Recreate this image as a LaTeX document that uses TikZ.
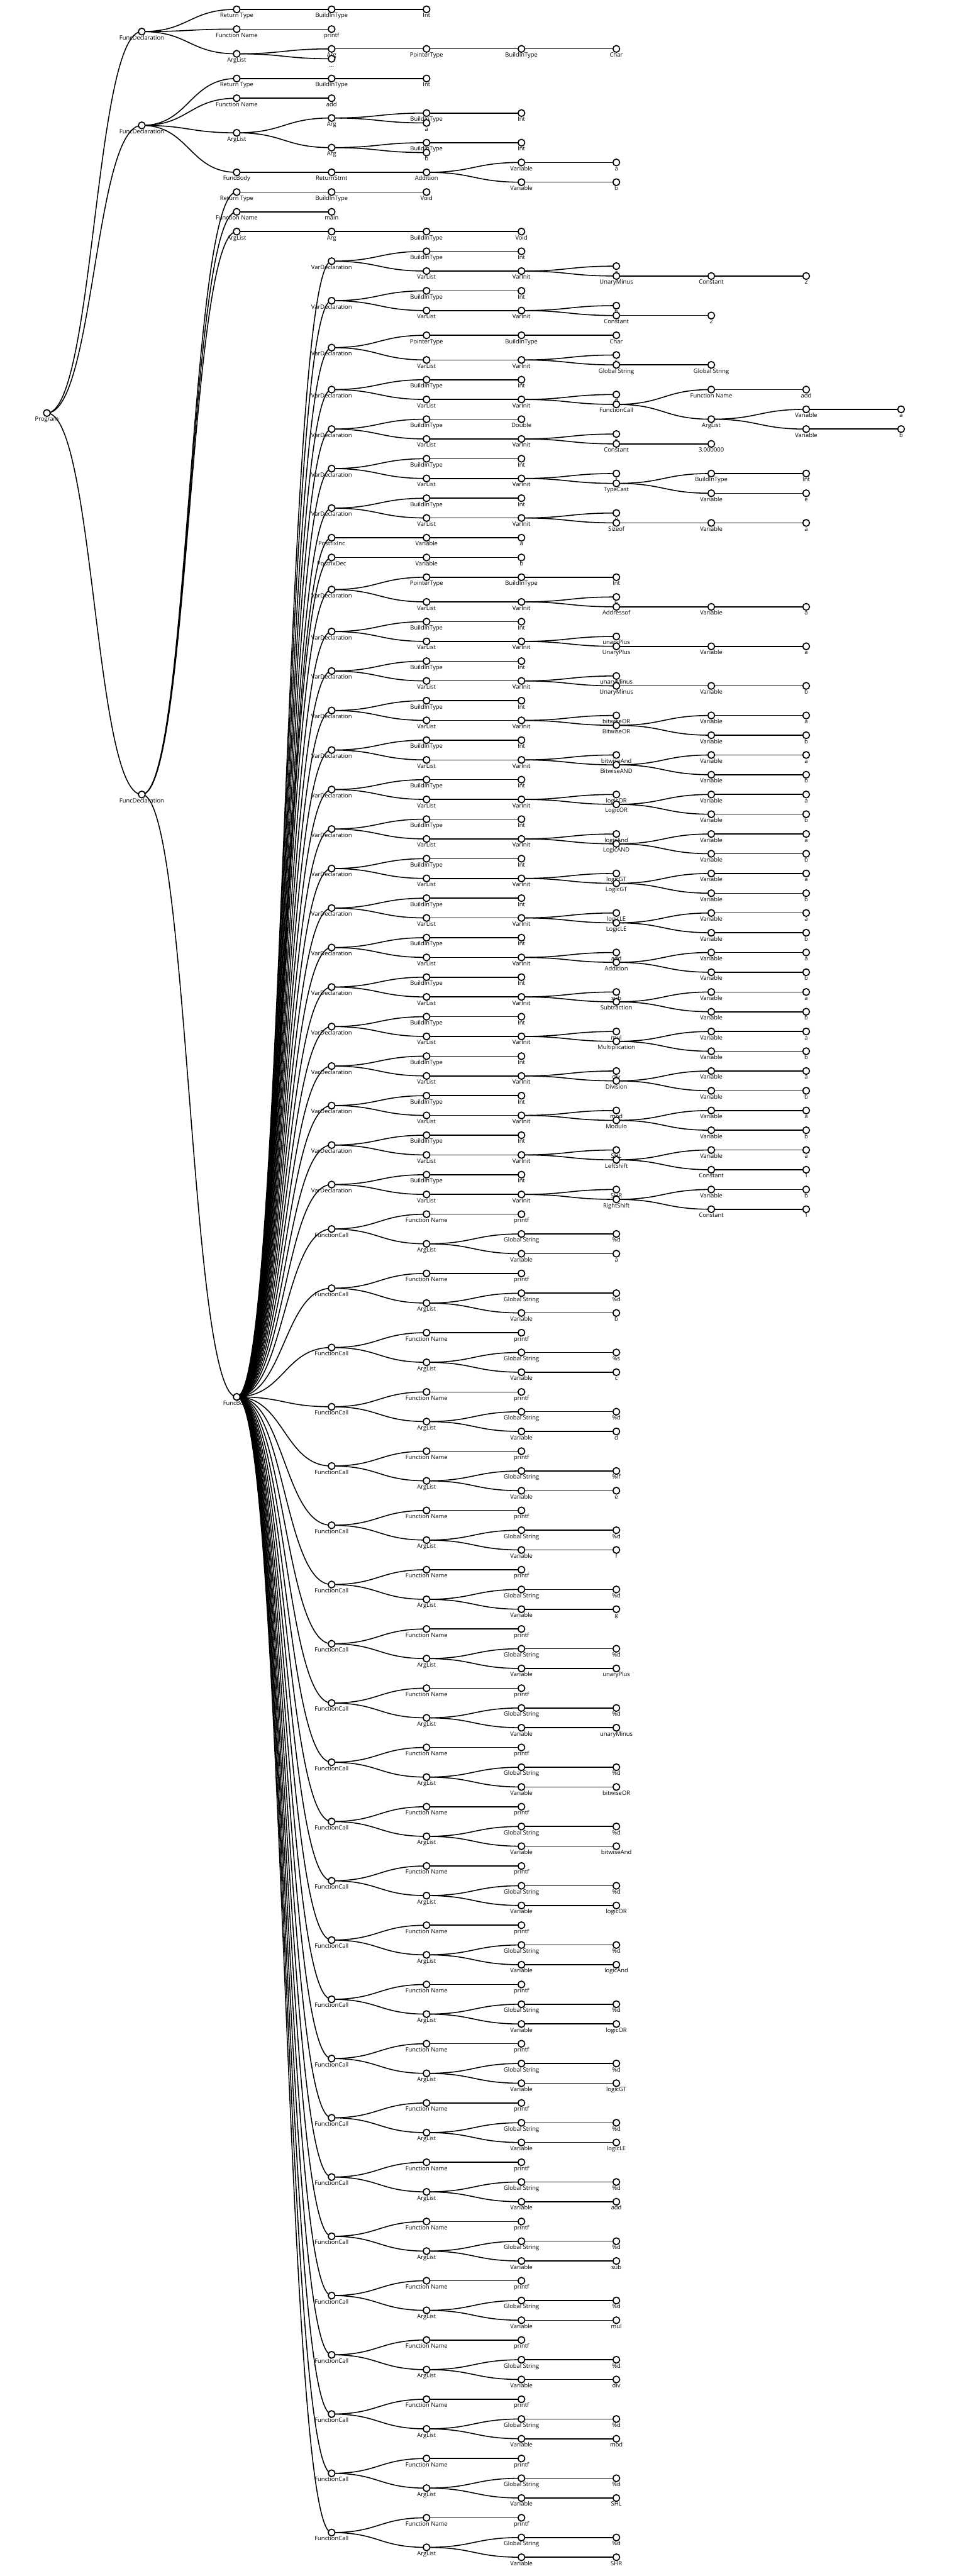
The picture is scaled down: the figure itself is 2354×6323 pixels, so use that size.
\documentclass[tikz,border=0pt]{standalone}
\usepackage{fontspec}
\setmainfont{Open Sans}
\usetikzlibrary{calc}
\pgfdeclarelayer{bg}
\pgfsetlayers{bg,main}
\tikzset{
  nd/.style={circle, draw=black, line width=1.3pt, fill=white, minimum size=8.3pt, inner sep=0pt, outer sep=0pt},
  lbl/.style={anchor=base, inner sep=0pt, text=black, font=\fontsize{7.25}{8}\selectfont},
  edge/.style={draw=black, line width=1.2pt},
}
\makeatletter
\newcommand\edgelist{}
% node: name, depth, row(unit), text
\newcommand\N[4]{%
  \node[nd] (#1) at ({115+233*(#2)},{23+24.24*(#3)}) {};
  \node[lbl] (lab-#1) at ({115+233*(#2)},{43+24.24*(#3)}) {#4};}
% edge parent -> child (collected, drawn later on the bottom layer)
\newcommand\drawedge[2]{\draw[edge] let \p1=(#1.center), \p2=(#2.center) in (\p1) .. controls ({0.5*\x1+0.5*\x2},\y1) and ({0.5*\x1+0.5*\x2},\y2) .. (\p2);}
\newcommand\E[2]{\g@addto@macro\edgelist{\drawedge{#1}{#2}}}
\makeatother
% child: parent, name, depth, row, text
\newcommand\C[5]{\N{#2}{#3}{#4}{#5}\E{#1}{#2}}
% simple variable declaration head
\newcommand\VDs[4]{%
 \C{hub}{#1}{3}{#2}{VarDeclaration}
 \C{#1}{#1-t}{4}{#2-1}{BuildInType}
 \C{#1-t}{#1-tt}{5}{#2-1}{#3}
 \C{#1}{#1-l}{4}{#2+1}{VarList}
 \C{#1-l}{#1-i}{5}{#2+1}{VarInit}
 \C{#1-i}{#1-n}{6}{#2+0.5}{#4}}
% pointer variable declaration head
\newcommand\VDp[4]{%
 \C{hub}{#1}{3}{#2}{VarDeclaration}
 \C{#1}{#1-p}{4}{#2-1.25}{PointerType}
 \C{#1-p}{#1-t}{5}{#2-1.25}{BuildInType}
 \C{#1-t}{#1-tt}{6}{#2-1.25}{#3}
 \C{#1}{#1-l}{4}{#2+1.25}{VarList}
 \C{#1-l}{#1-i}{5}{#2+1.25}{VarInit}
 \C{#1-i}{#1-n}{6}{#2+0.75}{#4}}
% binary declaration
\newcommand\BIN[8]{\VDs{#1}{#2}{Int}{#3}
 \C{#1-i}{#1-o}{6}{#2+1.5}{#4}
 \C{#1-o}{#1-a}{7}{#2+0.5}{#5}
 \C{#1-a}{#1-av}{8}{#2+0.5}{#6}
 \C{#1-o}{#1-b}{7}{#2+2.5}{#7}
 \C{#1-b}{#1-bv}{8}{#2+2.5}{#8}}
% printf call
\newcommand\FC[4]{%
 \C{hub}{#1}{3}{#2}{FunctionCall}
 \C{#1}{#1-f}{4}{#2-1.5}{Function Name}
 \C{#1-f}{#1-fp}{5}{#2-1.5}{printf}
 \C{#1}{#1-l}{4}{#2+1.5}{ArgList}
 \C{#1-l}{#1-g}{5}{#2+0.5}{Global String}
 \C{#1-g}{#1-gv}{6}{#2+0.5}{#3}
 \C{#1-l}{#1-v}{5}{#2+2.5}{Variable}
 \C{#1-v}{#1-vv}{6}{#2+2.5}{#4}}
\begin{document}
\begin{tikzpicture}[x=0.5pt,y=-0.5pt]
\useasboundingbox (0,0) rectangle (2354,6323);
\begin{pgfonlayer}{bg}
\fill[white] (0,0) rectangle (2354,6323);
\end{pgfonlayer}
\N{prog}{0}{40.875}{Program}
% first declaration
\C{prog}{fa}{1}{2.25}{FuncDeclaration}
\C{fa}{fart}{2}{0}{Return Type}
\C{fart}{fabt}{3}{0}{BuildInType}
\C{fabt}{faint}{4}{0}{Int}
\C{fa}{fafn}{2}{2}{Function Name}
\C{fafn}{faprintf}{3}{2}{printf}
\C{fa}{faal}{2}{4.5}{ArgList}
\C{faal}{faarg}{3}{4}{Arg}
\C{faarg}{fapt}{4}{4}{PointerType}
\C{fapt}{fabt2}{5}{4}{BuildInType}
\C{fabt2}{fachar}{6}{4}{Char}
\C{faal}{fadots}{3}{5}{...}
% second declaration
\C{prog}{fb}{1}{11.75}{FuncDeclaration}
\C{fb}{fbrt}{2}{7}{Return Type}
\C{fbrt}{fbbt}{3}{7}{BuildInType}
\C{fbbt}{fbint}{4}{7}{Int}
\C{fb}{fbfn}{2}{9}{Function Name}
\C{fbfn}{fbadd}{3}{9}{add}
\C{fb}{fbal}{2}{12.5}{ArgList}
\C{fbal}{fbarga}{3}{11}{Arg}
\C{fbarga}{fbargat}{4}{10.5}{BuildInType}
\C{fbargat}{fbargai}{5}{10.5}{Int}
\C{fbarga}{fbargan}{4}{11.5}{a}
\C{fbal}{fbargb}{3}{14}{Arg}
\C{fbargb}{fbargbt}{4}{13.5}{BuildInType}
\C{fbargbt}{fbargbi}{5}{13.5}{Int}
\C{fbargb}{fbargbn}{4}{14.5}{b}
\C{fb}{fbbody}{2}{16.5}{FuncBody}
\C{fbbody}{fbret}{3}{16.5}{ReturnStmt}
\C{fbret}{fbaddn}{4}{16.5}{Addition}
\C{fbaddn}{fbva}{5}{15.5}{Variable}
\C{fbva}{fbvan}{6}{15.5}{a}
\C{fbaddn}{fbvb}{5}{17.5}{Variable}
\C{fbvb}{fbvbn}{6}{17.5}{b}
% third declaration
\C{prog}{fc}{1}{79.5}{FuncDeclaration}
\C{fc}{fcrt}{2}{18.5}{Return Type}
\C{fcrt}{fcbt}{3}{18.5}{BuildInType}
\C{fcbt}{fcvoid}{4}{18.5}{Void}
\C{fc}{fcfn}{2}{20.5}{Function Name}
\C{fcfn}{fcmain}{3}{20.5}{main}
\C{fc}{fcal}{2}{22.5}{ArgList}
\C{fcal}{fcarg}{3}{22.5}{Arg}
\C{fcarg}{fcargt}{4}{22.5}{BuildInType}
\C{fcargt}{fcargv}{5}{22.5}{Void}
\C{fc}{hub}{2}{140.5}{FuncBody}
% statements
\VDs{s1}{25.5}{Int}{a}
\C{s1-i}{s1-o}{6}{27}{UnaryMinus}
\C{s1-o}{s1-c}{7}{27}{Constant}
\C{s1-c}{s1-v}{8}{27}{2}
\VDs{s2}{29.5}{Int}{b}
\C{s2-i}{s2-o}{6}{31}{Constant}
\C{s2-o}{s2-v}{7}{31}{2}
\VDp{s3}{34.25}{Char}{c}
\C{s3-i}{s3-o}{6}{36}{Global String}
\C{s3-o}{s3-v}{7}{36}{Global String}
\VDs{s4}{38.5}{Int}{d}
\C{s4-i}{s4-o}{6}{40}{FunctionCall}
\C{s4-o}{s4-f}{7}{38.5}{Function Name}
\C{s4-f}{s4-fv}{8}{38.5}{add}
\C{s4-o}{s4-al}{7}{41.5}{ArgList}
\C{s4-al}{s4-a}{8}{40.5}{Variable}
\C{s4-a}{s4-av}{9}{40.5}{a}
\C{s4-al}{s4-b}{8}{42.5}{Variable}
\C{s4-b}{s4-bv}{9}{42.5}{b}
\VDs{s5}{42.5}{Double}{e}
\C{s5-i}{s5-o}{6}{44}{Constant}
\C{s5-o}{s5-v}{7}{44}{3.000000}
\BIN{s6}{46.5}{f}{TypeCast}{BuildInType}{Int}{Variable}{e}
\VDs{s7}{50.5}{Int}{g}
\C{s7-i}{s7-o}{6}{52}{Sizeof}
\C{s7-o}{s7-a}{7}{52}{Variable}
\C{s7-a}{s7-av}{8}{52}{a}
\C{hub}{s8}{3}{53.5}{PostfixInc}
\C{s8}{s8-a}{4}{53.5}{Variable}
\C{s8-a}{s8-av}{5}{53.5}{a}
\C{hub}{s9}{3}{55.5}{PostfixDec}
\C{s9}{s9-a}{4}{55.5}{Variable}
\C{s9-a}{s9-av}{5}{55.5}{b}
\VDp{s10}{58.75}{Int}{h}
\C{s10-i}{s10-o}{6}{60.5}{Addressof}
\C{s10-o}{s10-a}{7}{60.5}{Variable}
\C{s10-a}{s10-av}{8}{60.5}{a}
\VDs{s11}{63}{Int}{unaryPlus}
\C{s11-i}{s11-o}{6}{64.5}{UnaryPlus}
\C{s11-o}{s11-a}{7}{64.5}{Variable}
\C{s11-a}{s11-av}{8}{64.5}{a}
\VDs{s12}{67}{Int}{unaryMinus}
\C{s12-i}{s12-o}{6}{68.5}{UnaryMinus}
\C{s12-o}{s12-a}{7}{68.5}{Variable}
\C{s12-a}{s12-av}{8}{68.5}{b}
\BIN{s13}{71}{bitwiseOR}{BitwiseOR}{Variable}{a}{Variable}{b}
\BIN{s14}{75}{bitwiseAnd}{BitwiseAND}{Variable}{a}{Variable}{b}
\BIN{s15}{79}{logicOR}{LogicOR}{Variable}{a}{Variable}{b}
\BIN{s16}{83}{logicAnd}{LogicAND}{Variable}{a}{Variable}{b}
\BIN{s17}{87}{logicGT}{LogicGT}{Variable}{a}{Variable}{b}
\BIN{s18}{91}{logicLE}{LogicLE}{Variable}{a}{Variable}{b}
\BIN{s19}{95}{add}{Addition}{Variable}{a}{Variable}{b}
\BIN{s20}{99}{sub}{Subtraction}{Variable}{a}{Variable}{b}
\BIN{s21}{103}{mul}{Multiplication}{Variable}{a}{Variable}{b}
\BIN{s22}{107}{div}{Division}{Variable}{a}{Variable}{b}
\BIN{s23}{111}{mod}{Modulo}{Variable}{a}{Variable}{b}
\BIN{s24}{115}{SHL}{LeftShift}{Variable}{a}{Constant}{1}
\BIN{s25}{119}{SHR}{RightShift}{Variable}{b}{Constant}{1}
% printf calls
\FC{c1}{123.5}{\%d}{a}
\FC{c2}{129.5}{\%d}{b}
\FC{c3}{135.5}{\%s}{c}
\FC{c4}{141.5}{\%d}{d}
\FC{c5}{147.5}{\%lf}{e}
\FC{c6}{153.5}{\%d}{f}
\FC{c7}{159.5}{\%d}{g}
\FC{c8}{165.5}{\%d}{unaryPlus}
\FC{c9}{171.5}{\%d}{unaryMinus}
\FC{c10}{177.5}{\%d}{bitwiseOR}
\FC{c11}{183.5}{\%d}{bitwiseAnd}
\FC{c12}{189.5}{\%d}{logicOR}
\FC{c13}{195.5}{\%d}{logicAnd}
\FC{c14}{201.5}{\%d}{logicOR}
\FC{c15}{207.5}{\%d}{logicGT}
\FC{c16}{213.5}{\%d}{logicLE}
\FC{c17}{219.5}{\%d}{add}
\FC{c18}{225.5}{\%d}{sub}
\FC{c19}{231.5}{\%d}{mul}
\FC{c20}{237.5}{\%d}{div}
\FC{c21}{243.5}{\%d}{mod}
\FC{c22}{249.5}{\%d}{SHL}
\FC{c23}{255.5}{\%d}{SHR}
\begin{pgfonlayer}{bg}
\edgelist
\end{pgfonlayer}
\end{tikzpicture}
\end{document}
